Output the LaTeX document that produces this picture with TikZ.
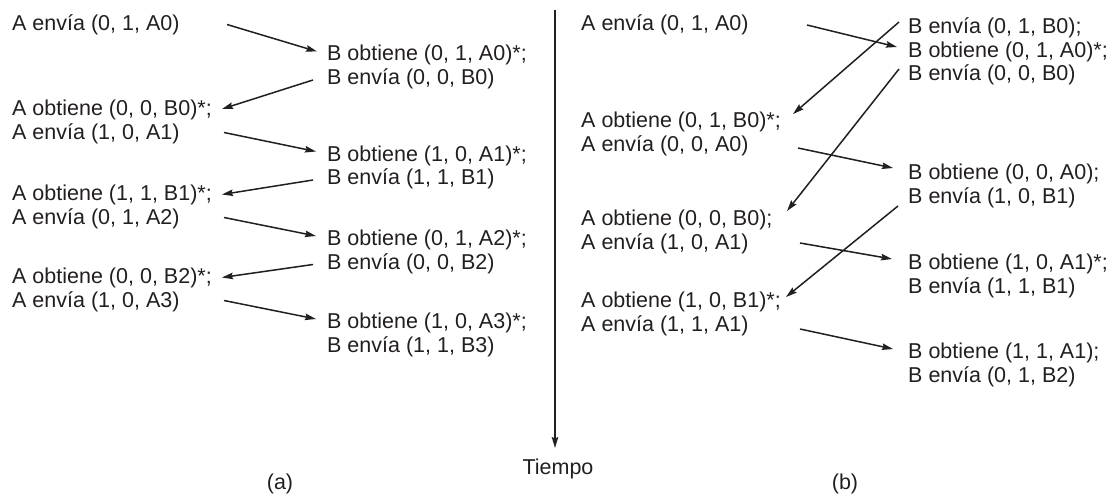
\documentclass[tikz,border=0pt]{standalone}
\usepackage{fontspec}
\setmainfont{Liberation Sans}
\usetikzlibrary{arrows.meta}
\definecolor{ink}{HTML}{231F20}
\begin{document}
\begin{tikzpicture}[x=1pt,y=-1pt,
  txt/.style={anchor=base west,inner sep=0pt,font=\fontsize{21.5}{23.5}\selectfont,text=ink},
  lbl/.style={anchor=base,inner sep=0pt,font=\fontsize{21.5}{23.5}\selectfont,text=ink},
  msg/.style={draw=ink,line width=1.5pt,-{Stealth[length=11pt,width=6.5pt,inset=1.5pt]}}]
\fill[white] (0,0) rectangle (1114,495);
\useasboundingbox (0,0) rectangle (1114,495);

% ---------- (a) ----------
\node[txt] (aA1) at (12,31)    {A envía (0, 1, A0)};
\node[txt] (aB1) at (327,61)   {B obtiene (0, 1, A0)*;};
\node[txt] (aB2) at (327,84.5) {B envía (0, 0, B0)};
\node[txt] (aA2) at (12,115.5) {A obtiene (0, 0, B0)*;};
\node[txt] (aA3) at (12,139)   {A envía (1, 0, A1)};
\node[txt] (aB3) at (327,161)  {B obtiene (1, 0, A1)*;};
\node[txt] (aB4) at (327,184.5){B envía (1, 1, B1)};
\node[txt] (aA4) at (12,200.5) {A obtiene (1, 1, B1)*;};
\node[txt] (aA5) at (12,224)   {A envía (0, 1, A2)};
\node[txt] (aB5) at (327,245.5){B obtiene (0, 1, A2)*;};
\node[txt] (aB6) at (327,269)  {B envía (0, 0, B2)};
\node[txt] (aA6) at (12,283.5) {A obtiene (0, 0, B2)*;};
\node[txt] (aA7) at (12,307)   {A envía (1, 0, A3)};
\node[txt] (aB7) at (327,328.5){B obtiene (1, 0, A3)*;};
\node[txt] (aB8) at (327,352)  {B envía (1, 1, B3)};

\coordinate (a1s) at (227,24.5);  \coordinate (a1e) at (317,51.5);
\coordinate (a2s) at (313,80);    \coordinate (a2e) at (222,109);
\coordinate (a3s) at (224,132.5); \coordinate (a3e) at (316,151.5);
\coordinate (a4s) at (313,180);   \coordinate (a4e) at (222,194.5);
\coordinate (a5s) at (224,217.5); \coordinate (a5e) at (316,236);
\coordinate (a6s) at (313,264.5); \coordinate (a6e) at (222,277.5);
\coordinate (a7s) at (224,300.5); \coordinate (a7e) at (316,319);
\foreach \i in {1,...,7} \draw[msg] (a\i s) -- (a\i e);

% ---------- time axis ----------
\coordinate (t0) at (555,10);
\coordinate (t1) at (555,448);
\draw[msg] (t0) -- (t1);
\node[lbl] (tiempo) at (558,474.5) {Tiempo};
\node[lbl] (la) at (280,489.5) {(a)};
\node[lbl] (lb) at (845,489.5) {(b)};

% ---------- (b) ----------
\node[txt] (bA1) at (581,31)    {A envía (0, 1, A0)};
\node[txt] (bB1) at (908,34)    {B envía (0, 1, B0);};
\node[txt] (bB2) at (908,57.5)  {B obtiene (0, 1, A0)*;};
\node[txt] (bB3) at (908,81)    {B envía (0, 0, B0)};
\node[txt] (bA2) at (581,127.5) {A obtiene (0, 1, B0)*;};
\node[txt] (bA3) at (581,151)   {A envía (0, 0, A0)};
\node[txt] (bB4) at (908,179.5) {B obtiene (0, 0, A0);};
\node[txt] (bB5) at (908,203)   {B envía (1, 0, B1)};
\node[txt] (bA4) at (581,225.5) {A obtiene (0, 0, B0);};
\node[txt] (bA5) at (581,249)   {A envía (1, 0, A1)};
\node[txt] (bB6) at (908,269.5) {B obtiene (1, 0, A1)*;};
\node[txt] (bB7) at (908,293)   {B envía (1, 1, B1)};
\node[txt] (bA6) at (581,307.5) {A obtiene (1, 0, B1)*;};
\node[txt] (bA7) at (581,331)   {A envía (1, 1, A1)};
\node[txt] (bB8) at (908,358.5) {B obtiene (1, 1, A1);};
\node[txt] (bB9) at (908,382)   {B envía (0, 1, B2)};

\coordinate (b1s) at (807,25);  \coordinate (b1e) at (897,47);
\coordinate (b2s) at (899,22);  \coordinate (b2e) at (793,114);
\coordinate (b3s) at (899,69);  \coordinate (b3e) at (787,211);
\coordinate (b4s) at (798,148); \coordinate (b4e) at (893,168);
\coordinate (b5s) at (898,206); \coordinate (b5e) at (786,297);
\coordinate (b6s) at (800,243); \coordinate (b6e) at (892,259);
\coordinate (b7s) at (800,329); \coordinate (b7e) at (893,349);
\foreach \i in {1,...,7} \draw[msg] (b\i s) -- (b\i e);
\end{tikzpicture}
\end{document}
